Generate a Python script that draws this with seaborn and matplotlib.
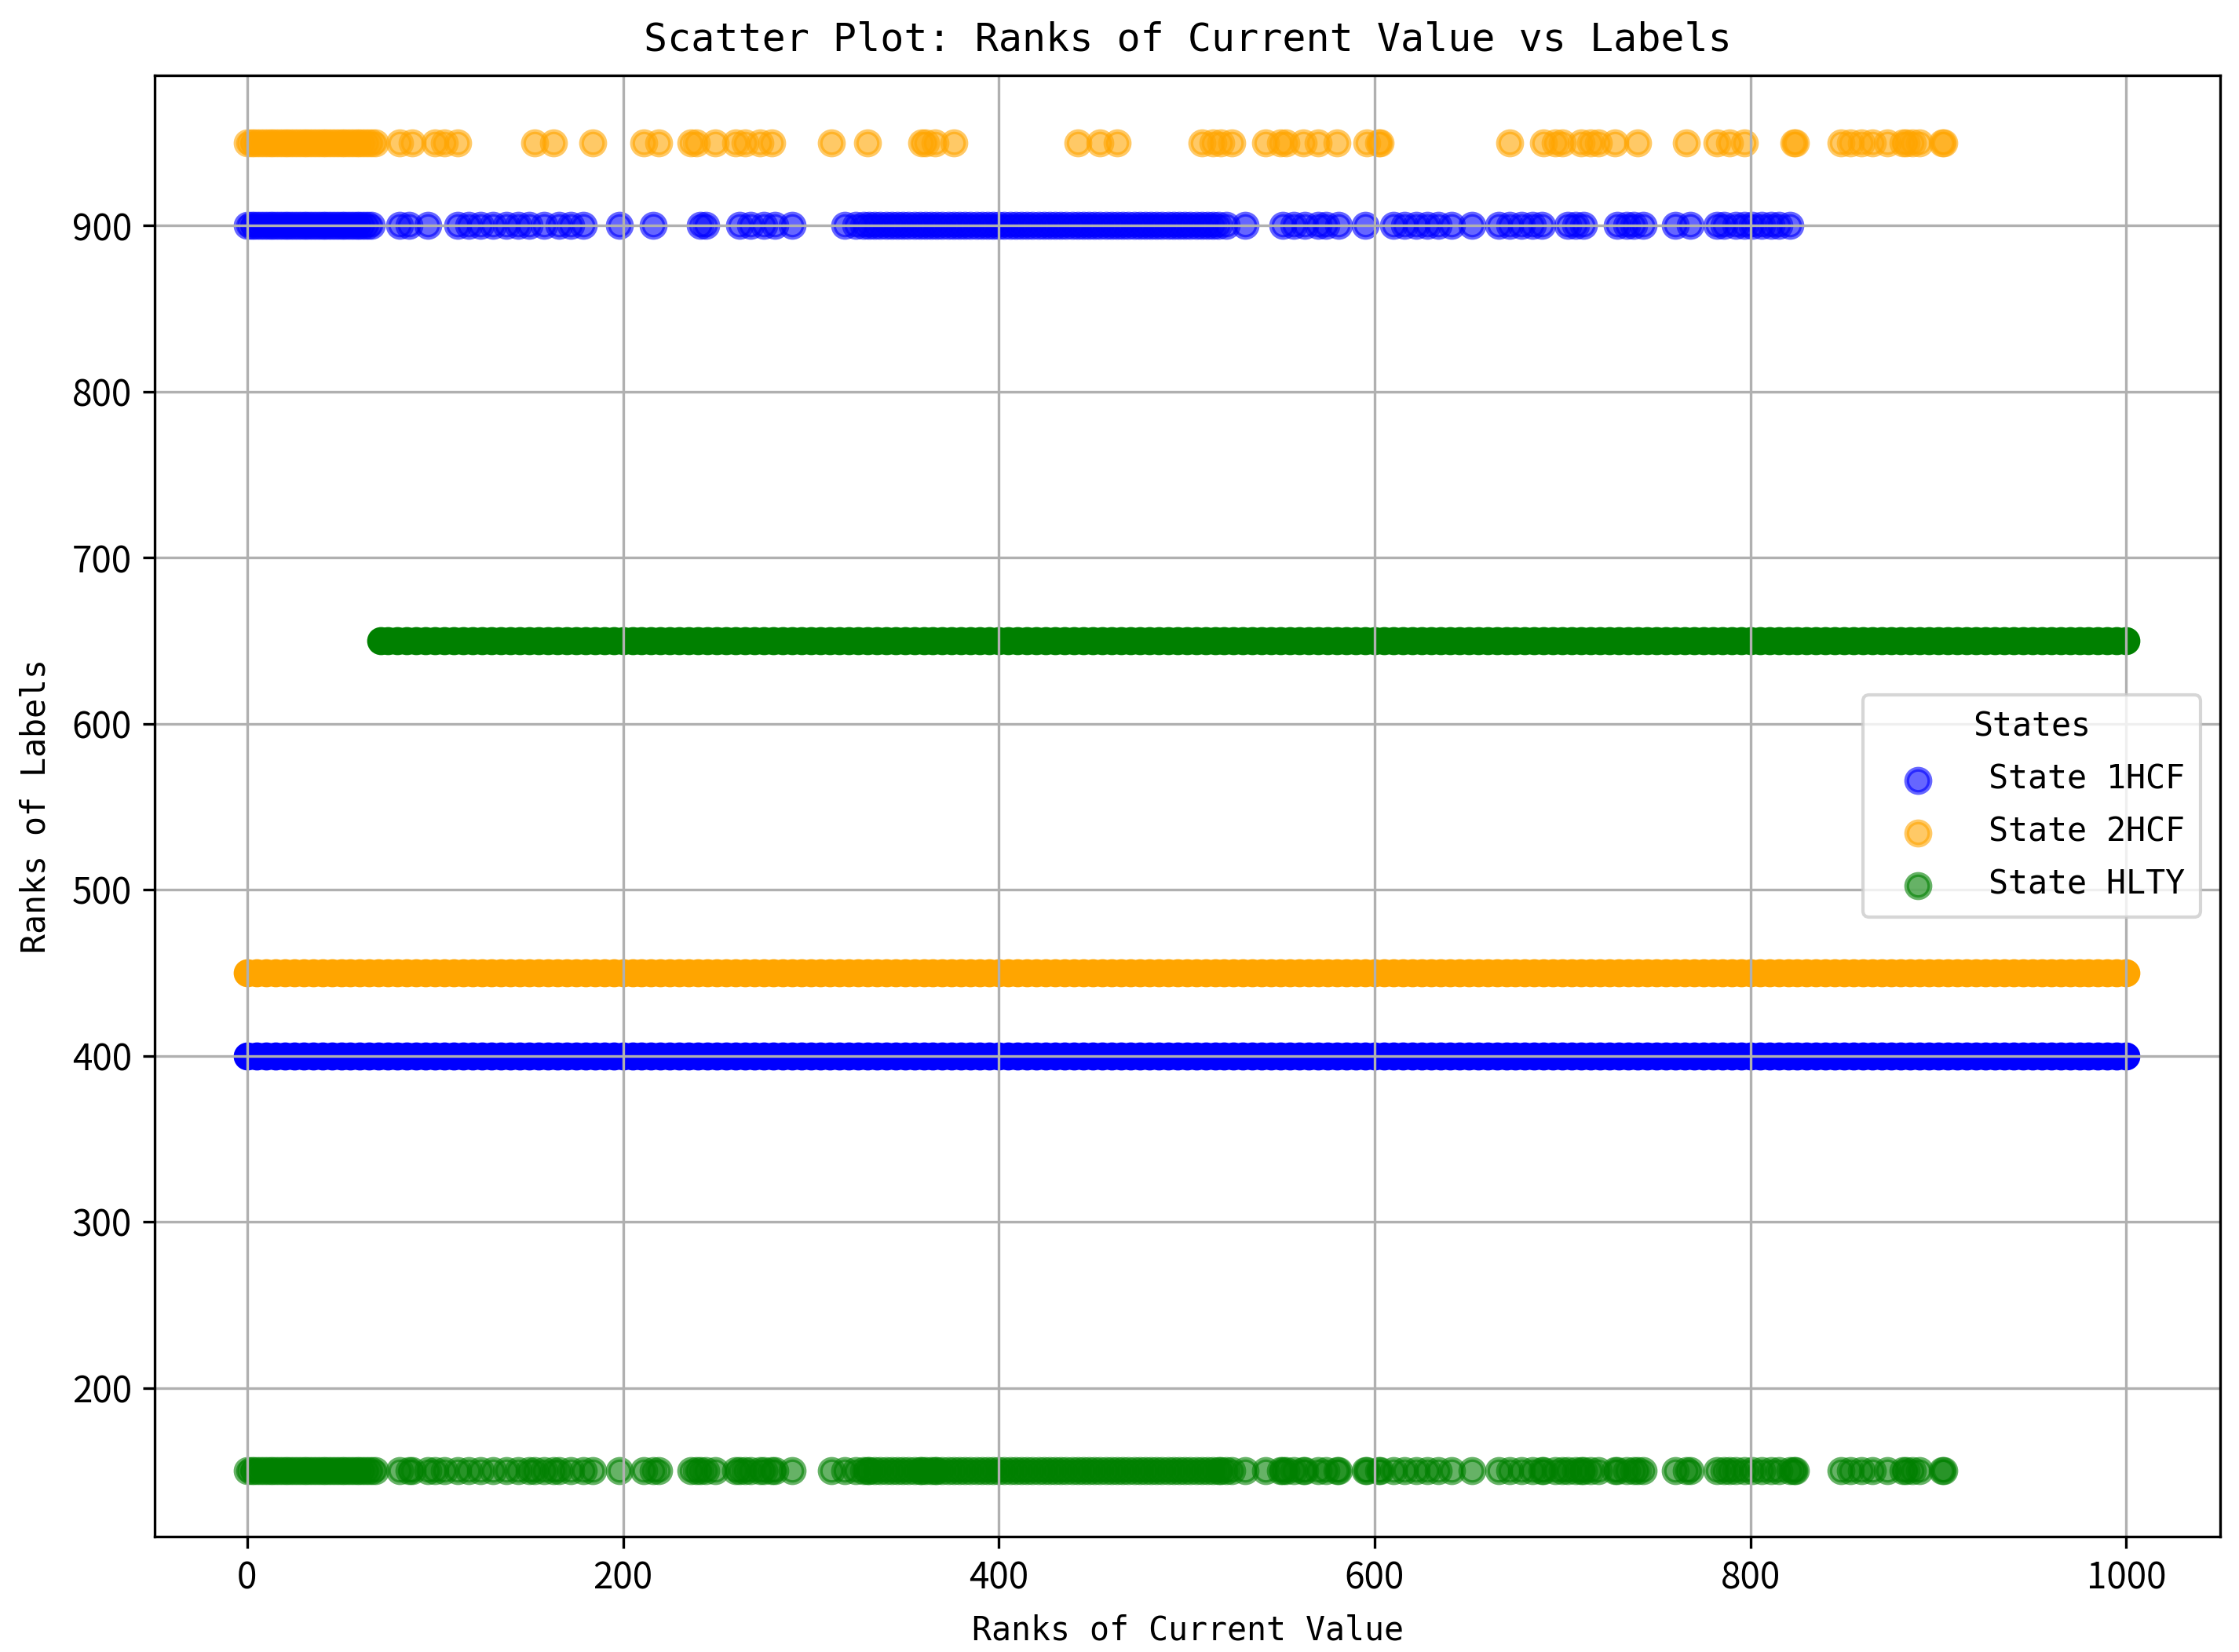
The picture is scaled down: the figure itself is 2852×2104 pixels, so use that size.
import numpy as np
import pandas as pd
import matplotlib
matplotlib.use("Agg")
import matplotlib.pyplot as plt
import seaborn as sns

# ---- data (x = rank of current value) ----
# sparse rows (the leading run 0..~66 is solid in the picture)
blue_high_x = [0, 2, 4, 6, 8, 10, 12, 14, 16, 18, 20, 22, 24, 26, 28, 30, 32, 34, 36, 38,
               40, 42, 44, 46, 48, 50, 52, 54, 56, 58, 60, 62, 64, 66,
               81, 86, 96, 112, 118, 124, 131, 138, 144, 150, 158, 166, 172, 179,
               198, 216, 241, 244, 262, 268, 275, 281, 290, 318, 324,
               328, 331, 334, 337, 340, 343, 346, 349, 352, 355, 358, 361, 364, 367, 370,
               373, 376, 379, 382, 385, 388, 391, 394, 397, 400, 403, 406, 409, 412, 415,
               418, 421, 424, 427, 430, 433, 436, 439, 442, 445, 448, 451, 454, 457, 460,
               463, 466, 469, 472, 475, 478, 481, 484, 487, 490, 493, 496, 499, 502, 505,
               508, 511, 514, 517, 521, 531,
               551, 557, 563, 570, 574, 581, 595, 610, 616, 622, 628, 634, 641, 652,
               666, 672, 678, 684, 689, 703, 707, 711, 729, 734, 738, 743, 760, 768,
               782, 786, 792, 797, 801, 806, 811, 815, 821]
orange_high_x = [0, 2, 4, 6, 8, 10, 12, 14, 16, 18, 20, 22, 24, 26, 28, 30, 32, 34, 36, 38,
                 40, 42, 44, 46, 48, 50, 52, 54, 56, 58, 60, 62, 64, 66, 68,
                 81, 88, 100, 105, 112, 153, 163, 184, 211, 219, 236, 239, 249, 260,
                 265, 273, 279, 311, 330, 359, 361, 366, 376, 442, 454, 463, 508, 514,
                 518, 524, 542, 550, 553, 562, 570, 580, 596, 602, 603, 672, 690, 696,
                 700, 710, 715, 719, 728, 740, 766, 782, 789, 797, 823, 824, 848, 853,
                 859, 865, 873, 881, 883, 886, 890, 902, 903]
green_low_x = [0, 2, 4, 6, 8, 10, 12, 14, 16, 18, 20, 22, 24, 26, 28, 30, 32, 34, 36, 38,
               40, 42, 44, 46, 48, 50, 52, 54, 56, 58, 60, 62, 64, 66, 68,
               81, 86, 88, 96, 100, 105, 112, 118, 124, 131, 138, 144, 150, 153, 158,
               163, 166, 172, 179, 184, 198, 211, 216, 219, 236, 239, 241, 244, 249,
               260, 262, 265, 268, 273, 275, 279, 281, 290, 311, 318, 324,
               328, 330, 331, 334, 337, 340, 343, 346, 349, 352, 355, 358, 359, 361, 364,
               366, 367, 370, 373, 376, 379, 382, 385, 388, 391, 394, 397, 400, 403, 406,
               409, 412, 415, 418, 421, 424, 427, 430, 433, 436, 439, 442, 445, 448, 451,
               454, 457, 460, 463, 466, 469, 472, 475, 478, 481, 484, 487, 490, 493, 496,
               499, 502, 505, 508, 511, 514, 517, 518, 521, 524, 531, 542, 550, 551, 553,
               557, 562, 563, 570, 574, 580, 581, 595, 596, 602, 603, 610, 616, 622, 628,
               634, 641, 652, 666, 672, 678, 684, 689, 690, 696, 700, 703, 707, 710, 711,
               715, 719, 728, 729, 734, 738, 740, 743, 760, 766, 768, 782, 786, 789,
               792, 797, 801, 806, 811, 815, 821, 823, 824, 848, 853, 859, 865, 873,
               881, 883, 886, 890, 902, 903]

# dense rows (every rank is occupied, drawn as a solid band)
dense_x = [0, 5, 10, 15, 20, 25, 30, 35, 40, 45, 50, 55, 60, 65, 70, 75, 80, 85, 90, 95,
           100, 105, 110, 115, 120, 125, 130, 135, 140, 145, 150, 155, 160, 165, 170, 175, 180, 185, 190, 195,
           200, 205, 210, 215, 220, 225, 230, 235, 240, 245, 250, 255, 260, 265, 270, 275, 280, 285, 290, 295,
           300, 305, 310, 315, 320, 325, 330, 335, 340, 345, 350, 355, 360, 365, 370, 375, 380, 385, 390, 395,
           400, 405, 410, 415, 420, 425, 430, 435, 440, 445, 450, 455, 460, 465, 470, 475, 480, 485, 490, 495,
           500, 505, 510, 515, 520, 525, 530, 535, 540, 545, 550, 555, 560, 565, 570, 575, 580, 585, 590, 595,
           600, 605, 610, 615, 620, 625, 630, 635, 640, 645, 650, 655, 660, 665, 670, 675, 680, 685, 690, 695,
           700, 705, 710, 715, 720, 725, 730, 735, 740, 745, 750, 755, 760, 765, 770, 775, 780, 785, 790, 795,
           800, 805, 810, 815, 820, 825, 830, 835, 840, 845, 850, 855, 860, 865, 870, 875, 880, 885, 890, 895,
           900, 905, 910, 915, 920, 925, 930, 935, 940, 945, 950, 955, 960, 965, 970, 975, 980, 985, 990, 995,
           1000]
green_dense_x = [71, 75, 80, 85, 90, 95,
                 100, 105, 110, 115, 120, 125, 130, 135, 140, 145, 150, 155, 160, 165, 170, 175, 180, 185, 190, 195,
                 200, 205, 210, 215, 220, 225, 230, 235, 240, 245, 250, 255, 260, 265, 270, 275, 280, 285, 290, 295,
                 300, 305, 310, 315, 320, 325, 330, 335, 340, 345, 350, 355, 360, 365, 370, 375, 380, 385, 390, 395,
                 400, 405, 410, 415, 420, 425, 430, 435, 440, 445, 450, 455, 460, 465, 470, 475, 480, 485, 490, 495,
                 500, 505, 510, 515, 520, 525, 530, 535, 540, 545, 550, 555, 560, 565, 570, 575, 580, 585, 590, 595,
                 600, 605, 610, 615, 620, 625, 630, 635, 640, 645, 650, 655, 660, 665, 670, 675, 680, 685, 690, 695,
                 700, 705, 710, 715, 720, 725, 730, 735, 740, 745, 750, 755, 760, 765, 770, 775, 780, 785, 790, 795,
                 800, 805, 810, 815, 820, 825, 830, 835, 840, 845, 850, 855, 860, 865, 870, 875, 880, 885, 890, 895,
                 900, 905, 910, 915, 920, 925, 930, 935, 940, 945, 950, 955, 960, 965, 970, 975, 980, 985, 990, 995,
                 1000]

# label ranks for each state (sparse row, dense row)
states = ["State 1HCF", "State 2HCF", "State HLTY"]
colors = ["blue", "orange", "green"]
label_ranks = {"State 1HCF": (900, 400), "State 2HCF": (950, 450), "State HLTY": (150, 650)}
rows = {"State 1HCF": (blue_high_x, dense_x),
        "State 2HCF": (orange_high_x, dense_x),
        "State HLTY": (green_low_x, green_dense_x)}

MONO = "DejaVu Sans Mono"
plt.rcParams["font.family"] = ["Noto Sans CJK SC", "DejaVu Sans"]

fig = plt.figure(figsize=(2852 / 300, 2104 / 300), dpi=300)
ax = fig.add_subplot(111)
fig.subplots_adjust(left=0.0691, right=0.9916, bottom=0.0699, top=0.9544)

for state, color in zip(states, colors):
    sparse, dense = rows[state]
    y_sparse, y_dense = label_ranks[state]
    sparse_df = pd.DataFrame({"x": sparse, "y": [y_sparse] * len(sparse)})
    dense_df = pd.DataFrame({"x": dense, "y": [y_dense] * len(dense)})
    sns.scatterplot(data=sparse_df, x="x", y="y", color=color, s=50, alpha=0.6,
                    edgecolor="face", linewidth=1.5, label=state, ax=ax)
    # thousands of overlapping points: the band renders fully saturated
    sns.scatterplot(data=dense_df, x="x", y="y", color=color, s=50, alpha=1.0,
                    edgecolor="face", linewidth=1.5, legend=False, ax=ax)

ax.set_xlim(-49.2, 1050)
ax.set_ylim(110.5, 990.5)
ax.grid(True)
ax.tick_params(labelsize=11)

ax.set_title("Scatter Plot: Ranks of Current Value vs Labels", family=MONO, fontsize=12, pad=7.5)
ax.set_xlabel("Ranks of Current Value", family=MONO, fontsize=10, labelpad=5)
ax.set_ylabel("Ranks of Labels", family=MONO, fontsize=10, labelpad=6)

ax.legend(title="States", loc="center right",
          prop={"family": MONO, "size": 10},
          title_fontproperties={"family": MONO, "size": 10},
          handlelength=2.4, handletextpad=0.96, borderpad=0.48,
          borderaxespad=0.6, labelspacing=0.6)

fig.savefig("out.png", dpi=300)
